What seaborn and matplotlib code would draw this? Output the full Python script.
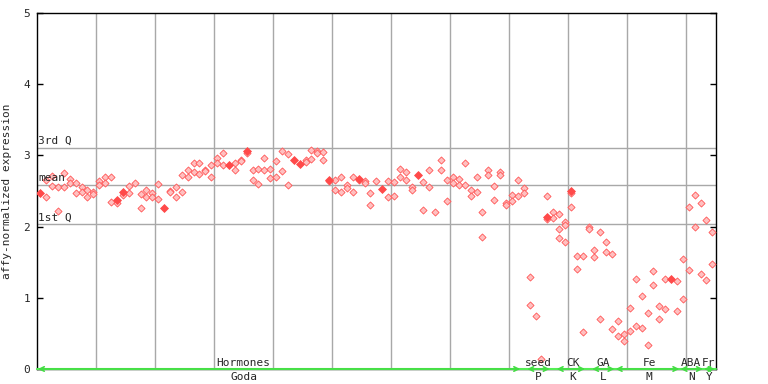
import matplotlib
matplotlib.use("Agg")
import matplotlib.pyplot as plt
import seaborn as sns
import pandas as pd

# hollow (checkered) points, one list per sample, sample 1..115
expr_per_sample = [
    [], [2.41, 2.65], [2.71, 2.57], [2.55, 2.22], [2.75, 2.55],
    [2.67, 2.61], [2.61, 2.47], [2.55, 2.48], [2.51, 2.41], [2.48, 2.46],
    [2.64, 2.58], [2.69, 2.61], [2.69, 2.35], [2.33], [2.45],
    [2.57, 2.47], [2.61], [2.46, 2.26], [2.51, 2.41], [2.47, 2.41],
    [2.60, 2.39], [], [2.50, 2.48], [2.55, 2.41], [2.72, 2.48],
    [2.80, 2.69], [2.89, 2.76], [2.90, 2.74], [2.80, 2.78], [2.86, 2.69],
    [2.97, 2.89], [3.03, 2.86], [], [2.89, 2.79], [2.94, 2.92],
    [3.03], [2.80, 2.66], [2.81, 2.60], [2.96, 2.80], [2.81, 2.68],
    [2.92, 2.69], [3.06, 2.78], [3.02, 2.58], [], [],
    [2.94, 2.91], [3.07, 2.95], [3.06, 3.03], [3.05, 2.93], [2.64],
    [2.65, 2.51], [2.69, 2.48], [2.59, 2.54], [2.70, 2.49], [2.65],
    [2.64, 2.61], [2.47, 2.31], [2.64], [], [2.64, 2.41],
    [2.63, 2.43], [2.81, 2.69], [2.77, 2.65], [2.55, 2.52], [],
    [2.63, 2.23], [2.79, 2.55], [2.20], [2.93, 2.79], [2.66, 2.36],
    [2.69, 2.61], [2.67, 2.58], [2.89, 2.58], [2.52, 2.43], [2.69, 2.48],
    [2.21, 1.86], [2.80, 2.72], [2.57, 2.38], [2.76, 2.73], [2.33, 2.30],
    [2.45, 2.36], [2.65, 2.43], [2.54, 2.47], [1.29, 0.90], [0.74],
    [0.14], [2.43, 2.10], [2.20, 2.12], [2.17, 1.96, 1.84], [2.07, 2.02, 1.79],
    [2.47, 2.28], [1.58, 1.40], [1.58, 0.52], [1.99, 1.96], [1.67, 1.57],
    [1.92, 0.70], [1.78, 1.64], [1.61, 0.56], [0.67, 0.47], [0.49, 0.39],
    [0.85, 0.54], [1.27, 0.61], [1.03, 0.57], [0.78, 0.33], [1.37, 1.18],
    [0.89, 0.70], [1.27, 0.84], [], [1.23, 0.81], [1.54, 0.98],
    [2.27, 1.39], [2.45, 1.99], [2.33, 1.34], [2.09, 1.25], [1.92, 1.47],
]

# solid points
solid_sample = [1, 14, 15, 22, 33, 36, 44, 45, 50, 55, 59, 65, 87, 91, 108]
solid_expr = [2.47, 2.37, 2.48, 2.26, 2.86, 3.06, 2.94, 2.88, 2.66, 2.67,
              2.53, 2.73, 2.13, 2.50, 1.26]

q_names = ["3rd Q", "mean", "1st Q"]
q_values = [3.10, 2.58, 2.03]

# sample groups along the bottom
group_top = ["Hormones", "seed", "CK", "GA", "Fe", "ABA", "Fr"]
group_bottom = ["Goda", "P", "K", "L", "M", "N", "Y"]
group_start = [1, 84, 89, 95, 99, 110, 114]
group_end = [82, 87, 93, 98, 109, 113, 115]
group_label_x = [35.5, 85.5, 91.3, 96.5, 104.3, 111.4, 114.4]

rows = []
for i, vals in enumerate(expr_per_sample):
    for v in vals:
        rows.append({"sample": i + 1, "expr": v})
hollow = pd.DataFrame(rows)
solid = pd.DataFrame({"sample": solid_sample, "expr": solid_expr})

sns.set_theme(style="white")
plt.rcParams["font.family"] = ["DejaVu Sans Mono", "DejaVu Sans"]

fig = plt.figure(figsize=(7.68, 3.84), dpi=100)
ax = fig.add_axes([0.0482, 0.0391, 0.8841, 0.927])

gray = "#a8a8a8"
for xv in [10.5 + 10 * k for k in range(11)]:
    ax.axvline(xv, color=gray, lw=1, zorder=1)
for name, qv in zip(q_names, q_values):
    ax.axhline(qv, color=gray, lw=1, zorder=1)
    ax.text(0.6, qv + 0.03, name, fontsize=8, ha="left", va="bottom", zorder=4)

sns.scatterplot(data=hollow, x="sample", y="expr", marker="D", s=13,
                color="#ffc0c0", edgecolor="#ff5555", linewidth=0.6, ax=ax, zorder=3)
sns.scatterplot(data=solid, x="sample", y="expr", marker="D", s=16,
                color="#ff4a4a", edgecolor="#ff4a4a", linewidth=0.6, ax=ax, zorder=3)

ax.set_xlim(0.44, 115.62)
ax.set_ylim(0, 5)
ax.set_xticks([])
ax.set_yticks([0, 1, 2, 3, 4, 5])
ax.tick_params(axis="y", direction="in", length=4, width=1, color="black",
               labelsize=8, pad=5, right=True, left=True)
ax.set_xlabel("")
ax.set_ylabel("affy-normalized expression", fontsize=8, labelpad=8)
for sp in ax.spines.values():
    sp.set_color("black")
    sp.set_linewidth(1)

# green group bars along the baseline
ax.plot([0.44, 115.62], [0, 0], color="#55ee55", lw=1.5, zorder=5, clip_on=False)
for st, en, top, bot, lx in zip(group_start, group_end, group_top, group_bottom, group_label_x):
    ax.annotate("", xy=(en + 0.4, 0), xytext=(st - 0.4, 0),
                arrowprops=dict(arrowstyle="<->", color="#44dd44", lw=1.2,
                                mutation_scale=8, shrinkA=0, shrinkB=0),
                annotation_clip=False, zorder=6)
    ax.text(lx, 0.02, top, fontsize=8, ha="center", va="bottom", zorder=6)
    ax.text(lx, -0.04, bot, fontsize=8, ha="center", va="top", clip_on=False)

plt.savefig("out.png", dpi=100)
